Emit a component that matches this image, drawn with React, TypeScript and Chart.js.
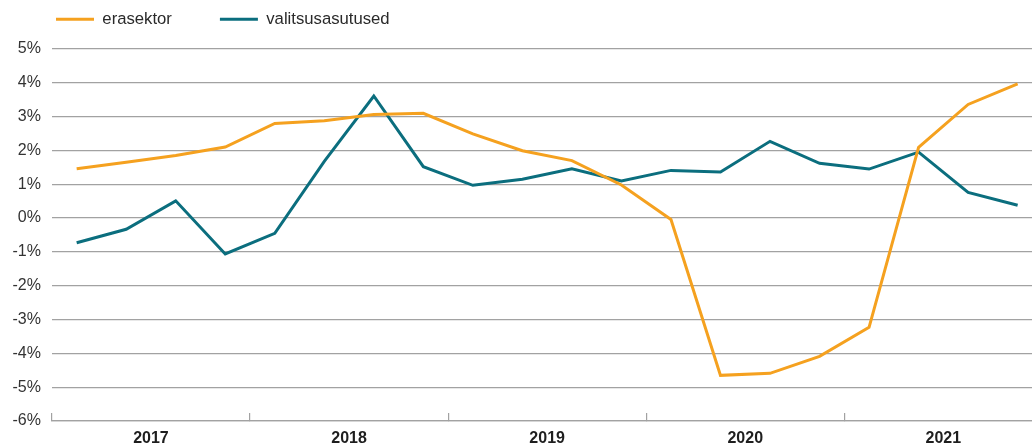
import React, { useEffect, useRef } from 'react';
import { Chart, registerables } from 'chart.js';

Chart.register(...registerables);

const quarters = [
  '2017 Q1', '2017 Q2', '2017 Q3', '2017 Q4',
  '2018 Q1', '2018 Q2', '2018 Q3', '2018 Q4',
  '2019 Q1', '2019 Q2', '2019 Q3', '2019 Q4',
  '2020 Q1', '2020 Q2', '2020 Q3', '2020 Q4',
  '2021 Q1', '2021 Q2', '2021 Q3', '2021 Q4',
];
const years = ['2017', '2018', '2019', '2020', '2021'];
const erasektor = [1.46, 1.65, 1.85, 2.10, 2.80, 2.88, 3.06, 3.10, 2.49, 1.99, 1.70, 0.98, -0.04, -4.65, -4.59, -4.09, -3.23, 2.09, 3.36, 3.97];
const valitsusasutused = [-0.73, -0.33, 0.51, -1.06, -0.45, 1.68, 3.61, 1.52, 0.97, 1.15, 1.46, 1.10, 1.41, 1.36, 2.27, 1.62, 1.45, 1.95, 0.76, 0.38];
const yMin = -6;
const yMax = 5;

const ORANGE = '#F5A11F';
const TEAL = '#0B6E7E';
const GRID = '#a2a2a2';
const FONT = '"Liberation Sans", Arial, Helvetica, sans-serif';

export default function App() {
  const ref = useRef<HTMLCanvasElement>(null);

  useEffect(() => {
    document.body.style.margin = '0';
    const legendSizer = {
      id: 'legendSizer',
      afterInit(chart: any) {
        const lg = chart.legend;
        if (!lg) return;
        const orig = lg.fit;
        lg.fit = function () {
          orig.call(this);
          this.height = 86;
        };
      },
    };
    const chart = new Chart(ref.current as HTMLCanvasElement, {
      type: 'line',
      data: {
        labels: quarters,
        datasets: [
          {
            label: 'erasektor',
            data: erasektor,
            borderColor: ORANGE,
            backgroundColor: ORANGE,
            borderWidth: 3,
            pointRadius: 0,
            tension: 0,
            xAxisID: 'x',
          },
          {
            label: 'valitsusasutused',
            data: valitsusasutused,
            borderColor: TEAL,
            backgroundColor: TEAL,
            borderWidth: 3,
            pointRadius: 0,
            tension: 0,
            xAxisID: 'x',
          },
        ],
      },
      options: {
        responsive: false,
        animation: false,
        devicePixelRatio: 1,
        layout: { padding: { left: 8, top: -37, right: 17.6, bottom: 0 } },
        plugins: {
          tooltip: { enabled: false },
          legend: {
            display: true,
            position: 'top',
            align: 'start',
            labels: {
              boxWidth: 38,
              boxHeight: 3,
              padding: 48,
              color: '#2a2a2a',
              font: { size: 16.7, family: FONT },
              generateLabels: (c: any) =>
                (Chart.defaults.plugins.legend.labels as any)
                  .generateLabels(c)
                  .map((l: any) => ({ ...l, lineWidth: 0 })),
            },
          },
        },
        scales: {
          x: {
            type: 'category',
            offset: true,
            display: false,
          },
          xYear: {
            type: 'linear',
            position: 'bottom',
            min: 0,
            max: years.length * 4,
            afterBuildTicks: (s: any) => {
              const t: any[] = [];
              for (let v = 0; v <= years.length * 4; v += 2) t.push({ value: v });
              s.ticks = t;
            },
            afterFit: (s: any) => {
              s.height = 31;
            },
            ticks: {
              autoSkip: false,
              maxRotation: 0,
              padding: 16,
              color: '#1e1e1e',
              font: { size: 16, weight: 'bold', family: FONT },
              callback: (v: any) => (v % 4 === 2 ? years[(v - 2) / 4] : ''),
            },
            grid: {
              drawOnChartArea: false,
              drawTicks: true,
              tickLength: -8,
              lineWidth: 1.2,
              color: (ctx: any) => (ctx.tick && ctx.tick.value % 4 === 0 ? GRID : 'rgba(0,0,0,0)'),
            },
            border: { display: true, color: GRID, width: 1.2 },
          },
          y: {
            min: yMin,
            max: yMax,
            afterFit: (s: any) => {
              s.width = 43.9;
            },
            ticks: {
              stepSize: 1,
              padding: 11,
              color: '#333',
              font: { size: 16, family: FONT },
              callback: (v: any) => v + '%',
            },
            grid: { color: GRID, lineWidth: 1.2, drawTicks: false },
            border: { display: false },
          },
        },
      },
      plugins: [legendSizer],
    } as any);
    return () => chart.destroy();
  }, []);

  return (
    <div
      style={{
        position: 'fixed',
        left: 0,
        top: 0,
        width: 1032,
        height: 443,
        overflow: 'hidden',
        background: '#fff',
      }}
    >
      <canvas ref={ref} width={1060} height={452} style={{ display: 'block', width: 1060, height: 452 }} />
    </div>
  );
}
